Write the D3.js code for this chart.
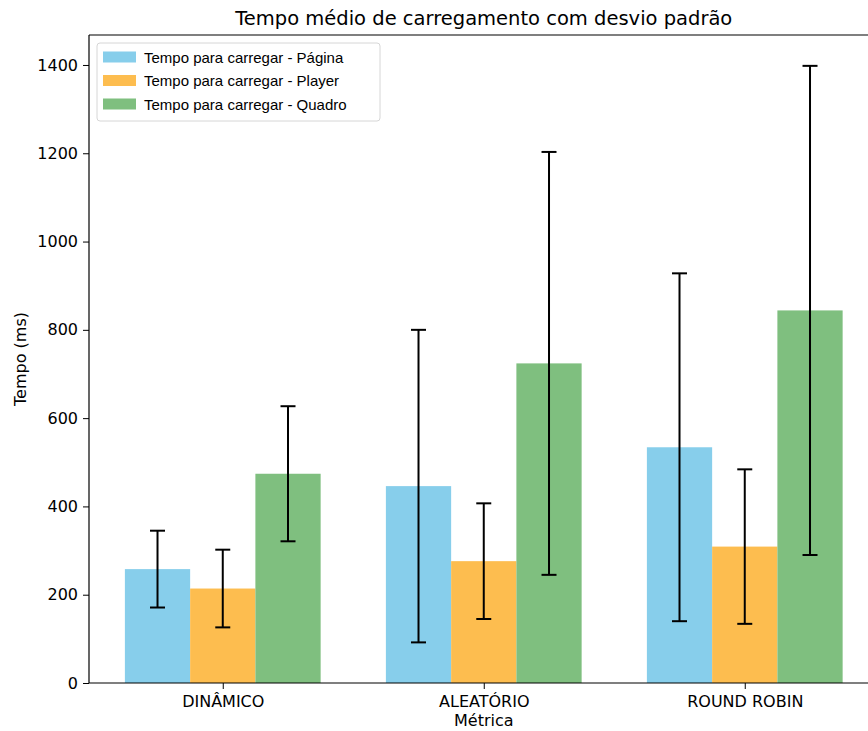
<!DOCTYPE html>
<html>
<head>
<meta charset="utf-8">
<script src="https://cdn.jsdelivr.net/npm/d3@7"></script>
<style>
  body { margin: 0; background: #fff; }
  svg text { font-family: 'DejaVu Sans', sans-serif; fill: #000; }
  .legend text { font-family: 'Liberation Sans', Arial, sans-serif; }
</style>
</head>
<body>
<svg id="chart" width="868" height="731"></svg>
<script>
const categories = ['DINÂMICO', 'ALEATÓRIO', 'ROUND ROBIN']
const seriesNames = ['Tempo para carregar - Página', 'Tempo para carregar - Player', 'Tempo para carregar - Quadro']
const seriesColours = ['#87CEEB', '#FDBD4F', '#7FBF7F']

// mean and standard deviation, one entry per category
const pageMean = [258, 446, 534]
const pageStd = [87, 354, 394]
const playerMean = [214, 276, 309]
const playerStd = [88, 131, 175]
const frameMean = [474, 724, 844]
const frameStd = [153, 479, 554]

const yTicks = [0, 200, 400, 600, 800, 1000, 1200, 1400]

const series = [
  { name: seriesNames[0], mean: pageMean, std: pageStd, colour: seriesColours[0] },
  { name: seriesNames[1], mean: playerMean, std: playerStd, colour: seriesColours[1] },
  { name: seriesNames[2], mean: frameMean, std: frameStd, colour: seriesColours[2] }
]

const BARW = 0.25
const svg = d3.select('svg#chart')

const PLOTLEFT = 89
const PLOTTOP = 35
const PLOTBOTTOM = 683

// x in category units, matplotlib style margins
const x = d3.scaleLinear()
  .domain([-0.5125, 2.5125])
  .range([PLOTLEFT, PLOTLEFT + 3.025 * 261])

const yMax = d3.max(series, s => d3.max(s.mean, (m, i) => m + s.std[i])) * 1.05
const y = d3.scaleLinear()
  .domain([0, yMax])
  .range([PLOTBOTTOM, PLOTTOP])

const bars = []
series.forEach((s, si) => {
  s.mean.forEach((m, ci) => {
    bars.push({ ci, si, mean: m, std: s.std[ci], colour: s.colour, pos: ci + (si - 1) * BARW })
  })
})

const plot = svg.append('g')
plot.append('clipPath').attr('id', 'clip')
  .append('rect')
  .attr('x', PLOTLEFT).attr('y', PLOTTOP)
  .attr('width', 868 - PLOTLEFT).attr('height', PLOTBOTTOM - PLOTTOP)

const g = plot.append('g').attr('clip-path', 'url(#clip)')

g.selectAll('rect.bar')
  .data(bars)
  .join('rect')
  .classed('bar', true)
  .attr('x', d => x(d.pos - BARW / 2))
  .attr('width', d => x(d.pos + BARW / 2) - x(d.pos - BARW / 2))
  .attr('y', d => y(d.mean))
  .attr('height', d => y(0) - y(d.mean))
  .attr('fill', d => d.colour)

// error bars
const CAP = 7.5
const err = g.selectAll('g.err')
  .data(bars)
  .join('g')
  .classed('err', true)
  .attr('stroke', '#000')
  .attr('stroke-width', 2)

err.append('line')
  .attr('x1', d => x(d.pos)).attr('x2', d => x(d.pos))
  .attr('y1', d => y(d.mean - d.std)).attr('y2', d => y(d.mean + d.std))
err.append('line')
  .attr('x1', d => x(d.pos) - CAP).attr('x2', d => x(d.pos) + CAP)
  .attr('y1', d => y(d.mean + d.std)).attr('y2', d => y(d.mean + d.std))
err.append('line')
  .attr('x1', d => x(d.pos) - CAP).attr('x2', d => x(d.pos) + CAP)
  .attr('y1', d => y(d.mean - d.std)).attr('y2', d => y(d.mean - d.std))

// axes
const yAxis = svg.append('g')
  .attr('transform', `translate(${PLOTLEFT},0)`)
  .call(d3.axisLeft(y).tickValues(yTicks).tickSize(6).tickPadding(5).tickFormat(d3.format('d')))
const xAxis = svg.append('g')
  .attr('transform', `translate(0,${PLOTBOTTOM})`)
  .call(d3.axisBottom(x).tickValues([0, 1, 2]).tickSize(6).tickPadding(7).tickFormat(i => categories[i]))

;[yAxis, xAxis].forEach(a => {
  a.selectAll('text').style('font-size', '16px').attr('fill', '#000')
  a.selectAll('.tick line').attr('stroke', '#000').attr('stroke-width', 1)
  a.select('.domain').remove()
})

// spines: left, bottom, top (right one falls outside the picture)
svg.append('line').attr('x1', PLOTLEFT).attr('x2', PLOTLEFT).attr('y1', PLOTTOP).attr('y2', PLOTBOTTOM)
  .attr('stroke', '#000').attr('stroke-width', 1.2)
svg.append('line').attr('x1', PLOTLEFT).attr('x2', 868).attr('y1', PLOTBOTTOM).attr('y2', PLOTBOTTOM)
  .attr('stroke', '#000').attr('stroke-width', 1.2)
svg.append('line').attr('x1', PLOTLEFT).attr('x2', 868).attr('y1', PLOTTOP).attr('y2', PLOTTOP)
  .attr('stroke', '#000').attr('stroke-width', 1.2)

// labels
const midX = (x.range()[0] + x.range()[1]) / 2
svg.append('text')
  .attr('x', midX).attr('y', 25)
  .attr('text-anchor', 'middle')
  .style('font-size', '19.5px')
  .text('Tempo médio de carregamento com desvio padrão')
svg.append('text')
  .attr('x', midX).attr('y', 726)
  .attr('text-anchor', 'middle')
  .style('font-size', '16px')
  .text('Métrica')
svg.append('text')
  .attr('transform', `translate(26,${(PLOTTOP + PLOTBOTTOM) / 2}) rotate(-90)`)
  .attr('text-anchor', 'middle')
  .style('font-size', '16px')
  .text('Tempo (ms)')

// legend
const legend = svg.append('g').classed('legend', true)
legend.append('rect')
  .attr('x', 97).attr('y', 43)
  .attr('width', 283).attr('height', 78)
  .attr('rx', 3)
  .attr('fill', '#fff').attr('fill-opacity', 0.8)
  .attr('stroke', '#d6d6d6')

const item = legend.selectAll('g.item')
  .data(series)
  .join('g')
  .classed('item', true)
  .attr('transform', (d, i) => `translate(0,${57 + i * 23.5})`)
item.append('rect')
  .attr('x', 103).attr('y', -5.5)
  .attr('width', 33).attr('height', 11)
  .attr('fill', d => d.colour)
item.append('text')
  .attr('x', 144).attr('y', 5.5)
  .style('font-size', '15px')
  .text(d => d.name)
</script>
</body>
</html>
